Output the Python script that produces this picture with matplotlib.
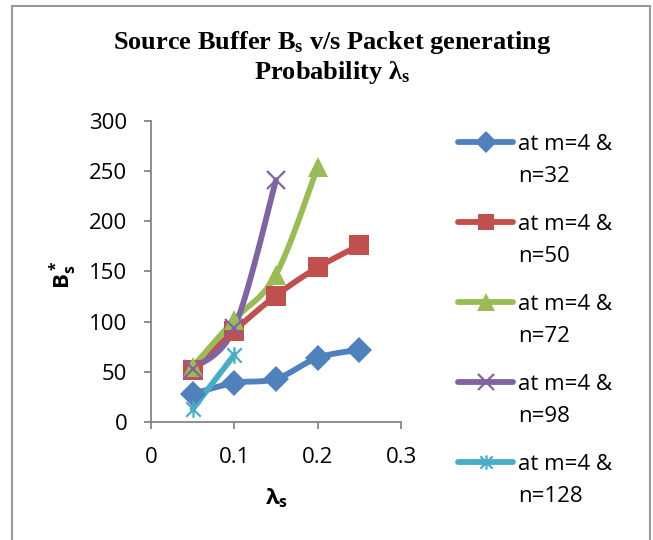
import numpy as np
import matplotlib
matplotlib.use("Agg")
from matplotlib import pyplot as plt
from matplotlib.path import Path
from matplotlib.lines import Line2D
from matplotlib.patches import Rectangle

# packet generating probability and source buffer size per configuration
lam = [0.05, 0.10, 0.15, 0.20, 0.25]
bs_n32 = [28, 39, 43, 64, 72]
bs_n50 = [52, 91, 126, 154, 176]
bs_n72 = [55, 102, 147, 254]
bs_n98 = [53, 94, 241]
bs_n128 = [13, 67]

labels = ["at m=4 &\nn=32", "at m=4 &\nn=50", "at m=4 &\nn=72",
          "at m=4 &\nn=98", "at m=4 &\nn=128"]
x_ticks = [0, 0.1, 0.2, 0.3]
x_ticklabels = ["0", "0.1", "0.2", "0.3"]
y_ticks = [0, 50, 100, 150, 200, 250, 300]

colors = ["#4F81BD", "#C0504D", "#9BBB59", "#8064A2", "#4BACC6"]

W, H = 653, 540
SANS = ["Open Sans", "DejaVu Sans"]
SERIF = ["Liberation Serif", "DejaVu Serif"]
GRAY = "#868686"
FS = 16

# Excel style star: an x with a vertical bar
star = Path([(-1, -1), (1, 1), (-1, 1), (1, -1), (0, -1.15), (0, 1.15)],
            [Path.MOVETO, Path.LINETO] * 3)

markers = [
    dict(marker="D", ms=13, mew=0),
    dict(marker="s", ms=14, mew=0),
    dict(marker="^", ms=15, mew=0),
    dict(marker="x", ms=13, mew=1.6),
    dict(marker=star, ms=12, mew=1.6),
]


def smooth(xs, ys, sx, sy, steps=30):
    # Catmull-Rom curve through the points, built in screen-like units
    p = np.column_stack([np.asarray(xs) * sx, np.asarray(ys) * sy])
    if len(p) < 3:
        return p[:, 0] / sx, p[:, 1] / sy
    ext = np.vstack([p[0], p, p[-1]])
    out = []
    for i in range(1, len(ext) - 2):
        p0, p1, p2, p3 = ext[i - 1], ext[i], ext[i + 1], ext[i + 2]
        c1 = p1 + (p2 - p0) / 6.0
        c2 = p2 - (p3 - p1) / 6.0
        t = np.linspace(0, 1, steps)[:, None]
        seg = ((1 - t) ** 3 * p1 + 3 * (1 - t) ** 2 * t * c1
               + 3 * (1 - t) * t ** 2 * c2 + t ** 3 * p2)
        out.append(seg if i == 1 else seg[1:])
    out = np.vstack(out)
    return out[:, 0] / sx, out[:, 1] / sy


fig = plt.figure(figsize=(W / 100, H / 100), dpi=100)
fig.patch.set_facecolor("white")

# chart area border
fig.add_artist(Rectangle((12 / W, -0.05), 638 / W, 1.05 - 6 / H,
                         transform=fig.transFigure, fill=False,
                         edgecolor="#999999", lw=1.5))

ax = fig.add_axes([151 / W, 1 - 422 / H, 250 / W, 301 / H])
ax.set_xlim(0, 0.3)
ax.set_ylim(0, 300)

series = [bs_n32, bs_n50, bs_n72, bs_n98, bs_n128]
sx, sy = 250 / 0.3, 301 / 300
for vals, c, mk in zip(series, colors, markers):
    xs = lam[:len(vals)]
    cx, cy = smooth(xs, vals, sx, sy)
    ax.plot(cx, cy, color=c, lw=4.2, solid_capstyle="round", zorder=3)
    ax.plot(xs, vals, ls="none", color=c, mec=c, zorder=4,
            clip_on=False, **mk)

for side in ("top", "right"):
    ax.spines[side].set_visible(False)
for side in ("left", "bottom"):
    ax.spines[side].set_color(GRAY)
    ax.spines[side].set_linewidth(1.3)

ax.set_xticks(x_ticks)
ax.set_xticklabels(x_ticklabels)
ax.set_yticks(y_ticks)
ax.tick_params(axis="both", direction="out", length=5, width=1.3,
               color=GRAY, labelsize=FS, labelcolor="black")
ax.tick_params(axis="x", pad=13)
ax.tick_params(axis="y", pad=12)
for t in ax.get_xticklabels() + ax.get_yticklabels():
    t.set_family(SANS)

# titles and axis labels
fig.text(332 / W, 1 - 43 / H, "Source Buffer B$\\mathregular{_s}$ v/s Packet generating",
         ha="center", va="center", family=SERIF, weight="bold", fontsize=19)
fig.text(332 / W, 1 - 72 / H, "Probability λ$\\mathregular{_s}$",
         ha="center", va="center", family=SERIF, weight="bold", fontsize=19)
fig.text(277 / W, 1 - 498 / H, "λ$\\mathregular{_s}$", ha="center", va="center",
         family=SANS, weight="bold", fontsize=FS)
fig.text(63 / W, 1 - 275 / H, "B$\\mathregular{_s^*}$", ha="center", va="center",
         rotation=90, family=SANS, weight="bold", fontsize=FS)

# legend on the right
for i, (lab, c, mk) in enumerate(zip(labels, colors, markers)):
    yc = 141.7 + i * 80
    fy = 1 - yc / H
    fig.add_artist(Line2D([458 / W, 513 / W], [fy, fy], transform=fig.transFigure,
                          color=c, lw=4.2, solid_capstyle="round"))
    m = dict(mk)
    m["ms"] = m["ms"] * 0.85
    fig.add_artist(Line2D([485.5 / W], [fy], transform=fig.transFigure,
                          ls="none", color=c, mec=c, **m))
    first, second = lab.split("\n")
    fig.text(518 / W, 1 - (yc + 8.5) / H, first, ha="left", va="baseline",
             family=SANS, fontsize=FS)
    fig.text(518 / W, 1 - (yc + 40.5) / H, second, ha="left", va="baseline",
             family=SANS, fontsize=FS)

fig.savefig("out.png", dpi=100)
